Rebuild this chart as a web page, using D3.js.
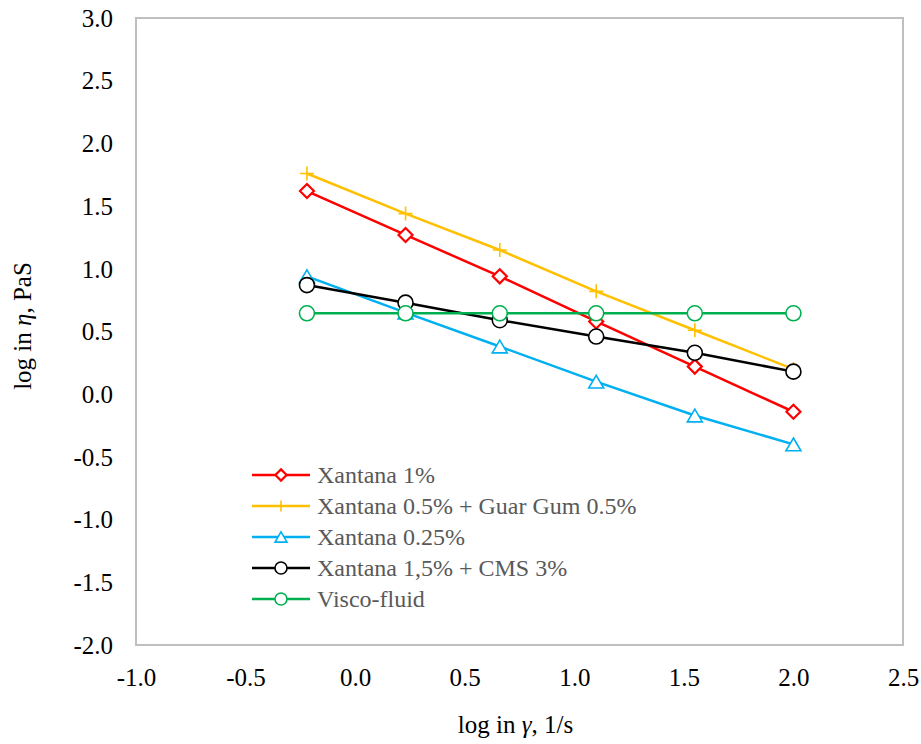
<!DOCTYPE html>
<html>
<head>
<meta charset="utf-8">
<script src="https://cdn.jsdelivr.net/npm/d3@7"></script>
<style>
  html, body { margin: 0; padding: 0; background: #fff; }
  svg { display: block; }
  svg text { font-family: "Liberation Serif", "Times New Roman", serif; }
</style>
</head>
<body>
<svg id="chart" width="921" height="744"></svg>
<script>
// Shear rate (log) at which viscosity was measured
const logShear = [-0.22, 0.23, 0.66, 1.10, 1.55, 2.00];

// log viscosity for each fluid
const xantana1 = [1.62, 1.27, 0.94, 0.58, 0.22, -0.14];
const xantanaGuar = [1.76, 1.44, 1.15, 0.82, 0.51, 0.20];
const xantana025 = [0.94, 0.65, 0.38, 0.10, -0.17, -0.40];
const xantanaCms = [0.87, 0.73, 0.59, 0.46, 0.33, 0.18];
const viscoFluid = [0.645, 0.645, 0.645, 0.645, 0.645, 0.645];

const seriesNames = ["Xantana 1%", "Xantana 0.5% + Guar Gum 0.5%", "Xantana 0.25%", "Xantana 1,5% + CMS 3%", "Visco-fluid"];
const seriesValues = [xantana1, xantanaGuar, xantana025, xantanaCms, viscoFluid];
const seriesColors = ["#ff0000", "#ffc000", "#00b0f0", "#000000", "#00b050"];
const seriesMarkers = ["diamond", "plus", "triangle", "circle", "circle"];

const xTicks = [-1.0, -0.5, 0.0, 0.5, 1.0, 1.5, 2.0, 2.5];
const yTicks = [3.0, 2.5, 2.0, 1.5, 1.0, 0.5, 0.0, -0.5, -1.0, -1.5, -2.0];

const svg = d3.select("#chart");
const plot = { left: 136, top: 18, right: 903, bottom: 645 };

const x = d3.scaleLinear().domain([-1, 2.5]).range([plot.left, plot.right]);
const y = d3.scaleLinear().domain([-2, 3]).range([plot.bottom, plot.top]);

// plot frame
svg.append("rect")
  .attr("x", plot.left).attr("y", plot.top)
  .attr("width", plot.right - plot.left).attr("height", plot.bottom - plot.top)
  .attr("fill", "#fff").attr("stroke", "#bfbfbf").attr("stroke-width", 2);

// axes: labels only, no tick lines or domain; plain hyphen for negatives
const fmt = v => d3.format(".1f")(v).replace("\u2212", "-");
const xAxis = d3.axisBottom(x).tickValues(xTicks).tickFormat(fmt).tickSize(0).tickPadding(0);
const gx = svg.append("g").attr("transform", `translate(0, ${plot.bottom})`).call(xAxis)
  .attr("font-family", null).attr("font-size", null);
gx.select(".domain").remove();
gx.selectAll("text").attr("dy", null).attr("y", 41)
  .style("font-size", "25px").attr("fill", "#000");

const yAxis = d3.axisLeft(y).tickValues(yTicks).tickFormat(fmt).tickSize(0).tickPadding(0);
const gy = svg.append("g").attr("transform", `translate(${plot.left}, 0)`).call(yAxis)
  .attr("font-family", null).attr("font-size", null);
gy.select(".domain").remove();
gy.selectAll("text").attr("x", -23).attr("dy", "0.33em")
  .style("font-size", "25px").attr("fill", "#000");

// axis titles
const xTitle = svg.append("text")
  .attr("x", (plot.left + plot.right) / 2 - 4).attr("y", 733)
  .attr("text-anchor", "middle").style("font-size", "25px").attr("fill", "#000");
xTitle.append("tspan").text("log in ");
xTitle.append("tspan").attr("font-style", "italic").text("γ");
xTitle.append("tspan").text(", 1/s");

const yTitle = svg.append("text")
  .attr("transform", `translate(31, ${326}) rotate(-90)`)
  .attr("text-anchor", "middle").style("font-size", "25px").attr("fill", "#000");
yTitle.append("tspan").text("log in ");
yTitle.append("tspan").attr("font-style", "italic").text("η");
yTitle.append("tspan").text(", PaS");

// marker drawing
function drawMarker(g, type, color, s) {
  if (type === "diamond") {
    g.append("path").attr("d", `M0,${-s}L${s},0L0,${s}L${-s},0Z`)
      .attr("fill", "#fff").attr("stroke", color).attr("stroke-width", 2.2);
  } else if (type === "plus") {
    g.append("path").attr("d", `M${-s},0H${s}M0,${-s}V${s}`)
      .attr("fill", "none").attr("stroke", color).attr("stroke-width", 1.6);
  } else if (type === "triangle") {
    const h = s * 1.7;
    g.append("path").attr("d", `M0,${-h / 2}L${s},${h / 2}L${-s},${h / 2}Z`)
      .attr("fill", "#fff").attr("stroke", color).attr("stroke-width", 1.6);
  } else {
    g.append("circle").attr("r", s)
      .attr("fill", "#fff").attr("stroke", color).attr("stroke-width", 1.6);
  }
}

const markerSize = { diamond: 7, plus: 7, triangle: 7.5, circle: 7.5 };

const line = d3.line().x(d => x(d[0])).y(d => y(d[1]));

seriesValues.forEach((vals, i) => {
  const pts = logShear.map((v, j) => [v, vals[j]]);
  const g = svg.append("g");
  g.append("path").datum(pts).attr("d", line)
    .attr("fill", "none").attr("stroke", seriesColors[i]).attr("stroke-width", 2.5)
    .attr("stroke-linejoin", "round");
  pts.forEach(p => {
    const m = g.append("g").attr("transform", `translate(${x(p[0])},${y(p[1])})`);
    drawMarker(m, seriesMarkers[i], seriesColors[i], markerSize[seriesMarkers[i]]);
  });
});

// legend
const legend = svg.append("g").attr("transform", "translate(252, 475)");
seriesNames.forEach((name, i) => {
  const row = legend.append("g").attr("transform", `translate(0, ${i * 31})`);
  row.append("line").attr("x1", 0).attr("x2", 58).attr("y1", 0).attr("y2", 0)
    .attr("stroke", seriesColors[i]).attr("stroke-width", 2.5);
  const m = row.append("g").attr("transform", "translate(29, 0)");
  drawMarker(m, seriesMarkers[i], seriesColors[i], markerSize[seriesMarkers[i]] * 0.8);
  row.append("text").attr("x", 65).attr("y", 0).attr("dy", "0.33em")
    .style("font-size", "24px").attr("fill", "#595959").text(name);
});
</script>
</body>
</html>
